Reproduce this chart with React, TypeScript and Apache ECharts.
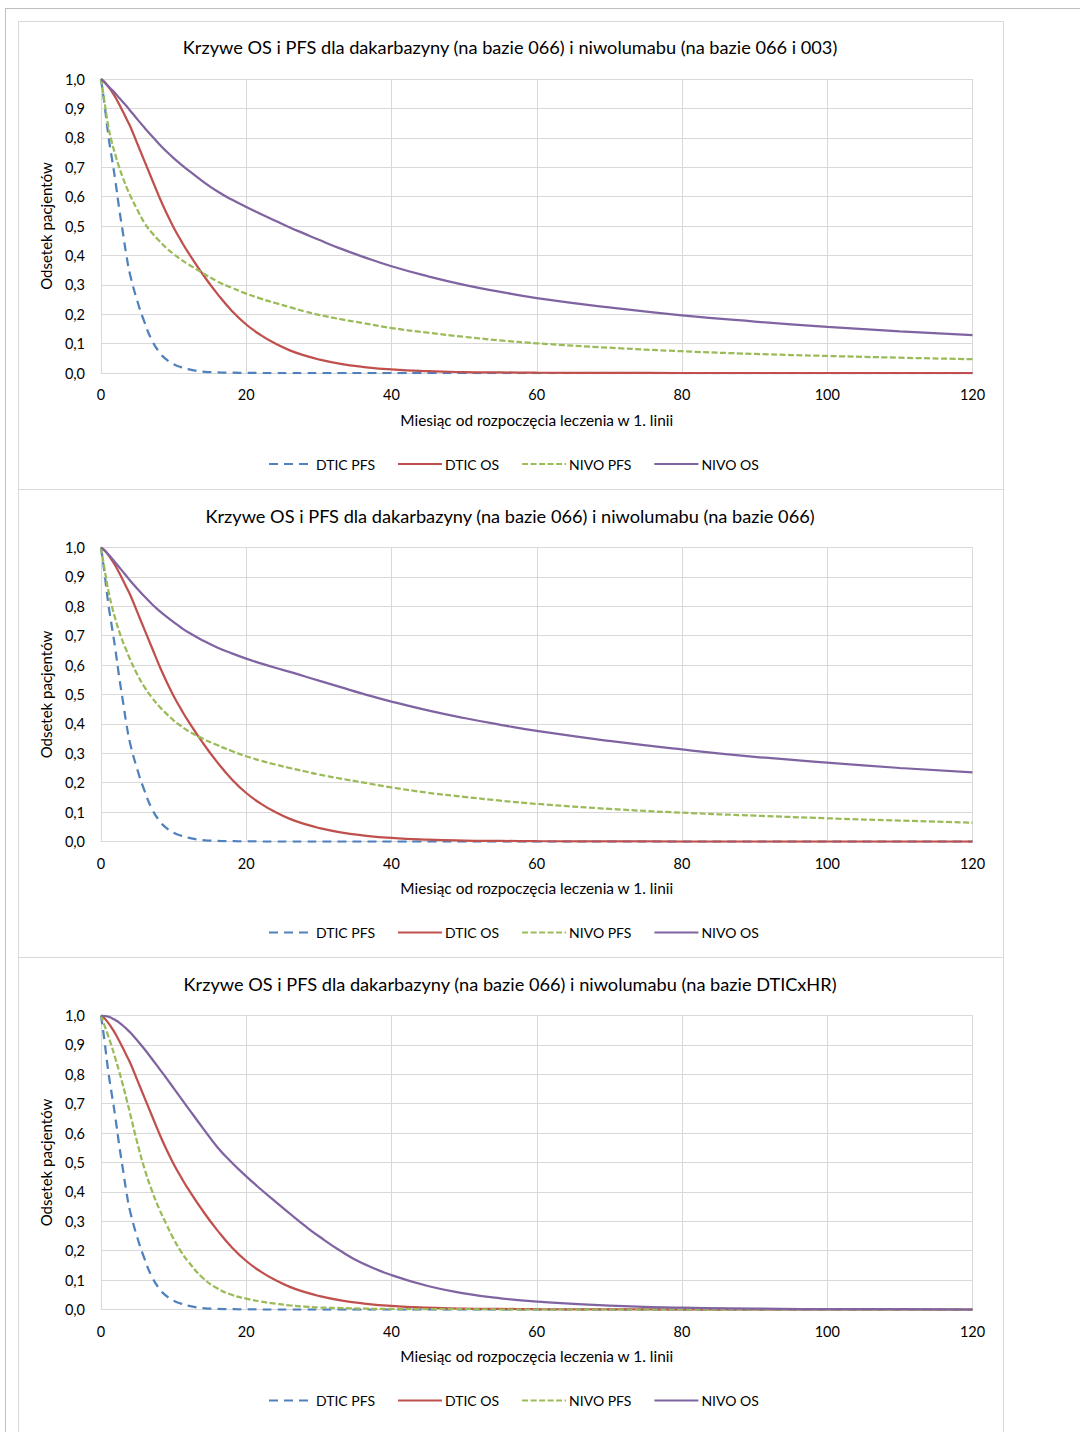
import React, { useEffect, useRef } from "react";
import * as echarts from "echarts";

const months = [0, 0.5, 1, 1.5, 2, 2.5, 3, 3.5, 4, 5, 6, 7, 8, 9, 10, 11, 12, 14, 16, 18, 20, 22, 24, 26, 28, 30, 33, 36, 40, 45, 50, 55, 60, 70, 80, 90, 100, 110, 120];

// DTIC (same in all three panels)
const dticPfs = [1, 0.91, 0.81, 0.73, 0.65, 0.56, 0.48, 0.40, 0.335, 0.245, 0.172, 0.112, 0.072, 0.046, 0.03, 0.02, 0.013, 0.005, 0.002, 0.001, 0.0005, 0, 0, 0, 0, 0, 0, 0, 0, 0, 0, 0, 0, 0, 0, 0, 0, 0, 0];
const dticOs = [1, 0.99, 0.975, 0.957, 0.937, 0.914, 0.89, 0.865, 0.84, 0.78, 0.72, 0.66, 0.60, 0.545, 0.495, 0.451, 0.41, 0.336, 0.27, 0.212, 0.165, 0.129, 0.1, 0.077, 0.06, 0.046, 0.031, 0.021, 0.012, 0.006, 0.003, 0.002, 0.001, 0.0005, 0, 0, 0, 0, 0];

// Panel 1: nivolumab based on 066 and 003
const nivoPfsA = [1, 0.92, 0.84, 0.785, 0.74, 0.70, 0.665, 0.633, 0.605, 0.555, 0.51, 0.477, 0.45, 0.425, 0.405, 0.386, 0.37, 0.34, 0.312, 0.29, 0.27, 0.253, 0.238, 0.224, 0.21, 0.198, 0.183, 0.17, 0.153, 0.137, 0.123, 0.111, 0.101, 0.086, 0.074, 0.065, 0.058, 0.052, 0.047];
const nivoOsA = [1, 0.988, 0.975, 0.963, 0.95, 0.936, 0.922, 0.908, 0.893, 0.863, 0.834, 0.806, 0.779, 0.754, 0.731, 0.71, 0.69, 0.652, 0.618, 0.59, 0.565, 0.541, 0.518, 0.495, 0.474, 0.453, 0.423, 0.396, 0.363, 0.329, 0.3, 0.276, 0.255, 0.223, 0.196, 0.175, 0.157, 0.142, 0.129];

// Panel 2: nivolumab based on 066
const nivoPfsB = [1, 0.925, 0.855, 0.80, 0.755, 0.715, 0.68, 0.65, 0.62, 0.568, 0.525, 0.49, 0.46, 0.435, 0.412, 0.393, 0.376, 0.35, 0.328, 0.308, 0.29, 0.275, 0.262, 0.25, 0.239, 0.228, 0.214, 0.201, 0.184, 0.166, 0.152, 0.139, 0.128, 0.111, 0.098, 0.088, 0.079, 0.071, 0.064];
const nivoOsB = [1, 0.99, 0.977, 0.963, 0.948, 0.933, 0.918, 0.903, 0.888, 0.86, 0.833, 0.808, 0.785, 0.765, 0.746, 0.728, 0.712, 0.684, 0.66, 0.64, 0.622, 0.606, 0.591, 0.577, 0.562, 0.547, 0.525, 0.503, 0.476, 0.446, 0.42, 0.397, 0.376, 0.342, 0.313, 0.288, 0.268, 0.25, 0.235];

// Panel 3: nivolumab based on DTICxHR
const nivoPfsC = [1, 0.965, 0.93, 0.893, 0.852, 0.81, 0.765, 0.717, 0.667, 0.567, 0.478, 0.405, 0.343, 0.29, 0.24, 0.198, 0.163, 0.108, 0.072, 0.05, 0.037, 0.027, 0.02, 0.014, 0.01, 0.007, 0.005, 0.003, 0.002, 0.001, 0.001, 0, 0, 0, 0, 0, 0, 0, 0];
const nivoOsC = [1, 0.999, 0.996, 0.991, 0.984, 0.976, 0.966, 0.955, 0.943, 0.915, 0.885, 0.853, 0.82, 0.787, 0.753, 0.719, 0.685, 0.618, 0.553, 0.5, 0.453, 0.409, 0.367, 0.326, 0.286, 0.249, 0.199, 0.157, 0.117, 0.08, 0.055, 0.038, 0.027, 0.013, 0.006, 0.003, 0.001, 0.001, 0];

const titles = [
  "Krzywe OS i PFS dla dakarbazyny (na bazie 066) i niwolumabu (na bazie 066 i 003)",
  "Krzywe OS i PFS dla dakarbazyny (na bazie 066) i niwolumabu (na bazie 066)",
  "Krzywe OS i PFS dla dakarbazyny (na bazie 066) i niwolumabu (na bazie DTICxHR)",
];
const seriesNames = ["DTIC PFS", "DTIC OS", "NIVO PFS", "NIVO OS"];
const xAxisName = "Miesiąc od rozpoczęcia leczenia w 1. linii";
const yAxisName = "Odsetek pacjentów";

const panelData = [
  [dticPfs, dticOs, nivoPfsA, nivoOsA],
  [dticPfs, dticOs, nivoPfsB, nivoOsB],
  [dticPfs, dticOs, nivoPfsC, nivoOsC],
];

const colors = ["#4F81BD", "#C0504D", "#9BBB59", "#8064A2"];
const dashes: any[] = [[9, 6], "solid", [6, 2.5], "solid"];

const FONT = "Lato, 'Open Sans', sans-serif";
const PANEL_H = 468;
const GRID_TOP0 = 79;
const GRID_H = 294;

export default function App() {
  const ref = useRef<HTMLDivElement>(null);
  useEffect(() => {
    if (!ref.current) return;
    const chart = echarts.init(ref.current, undefined, { renderer: "svg" });
    const grids: any[] = [];
    const xAxes: any[] = [];
    const yAxes: any[] = [];
    const series: any[] = [];
    const titleOpts: any[] = [];
    const legends: any[] = [];
    const graphics: any[] = [];

    graphics.push({ type: "line", shape: { x1: 5, y1: 8.5, x2: 1080, y2: 8.5 }, style: { stroke: "#BFBFBF", lineWidth: 1 } });
    graphics.push({ type: "line", shape: { x1: 5.5, y1: 8, x2: 5.5, y2: 1432 }, style: { stroke: "#BFBFBF", lineWidth: 1 } });

    panelData.forEach((vals, p) => {
      const off = p * PANEL_H + (p > 0 ? 0.5 : 0);
      graphics.push({
        type: "rect",
        shape: { x: 18.5, y: 21.5 + p * PANEL_H, width: 985, height: p === 2 ? 500 : PANEL_H },
        style: { fill: "none", stroke: "#D9D9D9", lineWidth: 1 },
        silent: true,
      });
      grids.push({ left: 101, width: 871.5, top: GRID_TOP0 + off, height: GRID_H, containLabel: false });
      titleOpts.push({
        text: titles[p],
        left: 505,
        textAlign: "center",
        top: 33 + off,
        textStyle: { fontFamily: FONT, fontSize: 18.2, fontWeight: "normal", color: "#000" },
      });
      xAxes.push({
        type: "value",
        gridIndex: p,
        min: 0,
        max: 120,
        interval: 20,
        name: xAxisName,
        nameLocation: "middle",
        nameGap: 39,
        nameTextStyle: { fontFamily: FONT, fontSize: 15.4, color: "#000" },
        axisLine: { show: true, lineStyle: { color: "#D9D9D9", width: 1 } },
        axisTick: { show: false },
        axisLabel: { fontFamily: FONT, fontSize: 14.5, color: "#000", margin: 14 },
        splitLine: { show: true, lineStyle: { color: "#D9D9D9", width: 1 } },
      });
      yAxes.push({
        type: "value",
        gridIndex: p,
        min: 0,
        max: 1,
        interval: 0.1,
        name: yAxisName,
        nameLocation: "middle",
        nameGap: 37,
        nameTextStyle: { fontFamily: FONT, fontSize: 15, color: "#000" },
        axisLine: { show: true, lineStyle: { color: "#D9D9D9", width: 1 } },
        axisTick: { show: false },
        axisLabel: {
          fontFamily: FONT,
          fontSize: 14.5,
          color: "#000",
          margin: 16,
          formatter: (v: number) => v.toFixed(1).replace(".", ","),
        },
        splitLine: { show: true, lineStyle: { color: "#D9D9D9", width: 1 } },
      });
      vals.forEach((arr, s) => {
        series.push({
          type: "line",
          name: seriesNames[s],
          xAxisIndex: p,
          yAxisIndex: p,
          data: months.map((m, i) => [m, arr[i]]),
          showSymbol: false,
          symbol: "none",
          smooth: 0.5,
          lineStyle: { color: colors[s], width: 2.25, type: dashes[s] },
          itemStyle: { color: colors[s] },
          z: 2 + s,
        });
      });
      legends.push({
        top: 452 + off,
        left: 263,
        itemWidth: 44,
        itemHeight: 14,
        itemGap: 22,
        data: seriesNames,
        itemStyle: { opacity: 0 },
        textStyle: { fontFamily: FONT, fontSize: 14, color: "#000", padding: [0, 0, 0, -2] },
        selectedMode: false,
      });
    });

    chart.setOption({
      animation: false,
      backgroundColor: "#fff",
      color: colors,
      title: titleOpts,
      legend: legends,
      grid: grids,
      xAxis: xAxes,
      yAxis: yAxes,
      series,
      graphic: graphics,
    });
    return () => chart.dispose();
  }, []);
  return <div ref={ref} style={{ position: "absolute", left: 0, top: 0, width: 1080, height: 1432 }} />;
}
